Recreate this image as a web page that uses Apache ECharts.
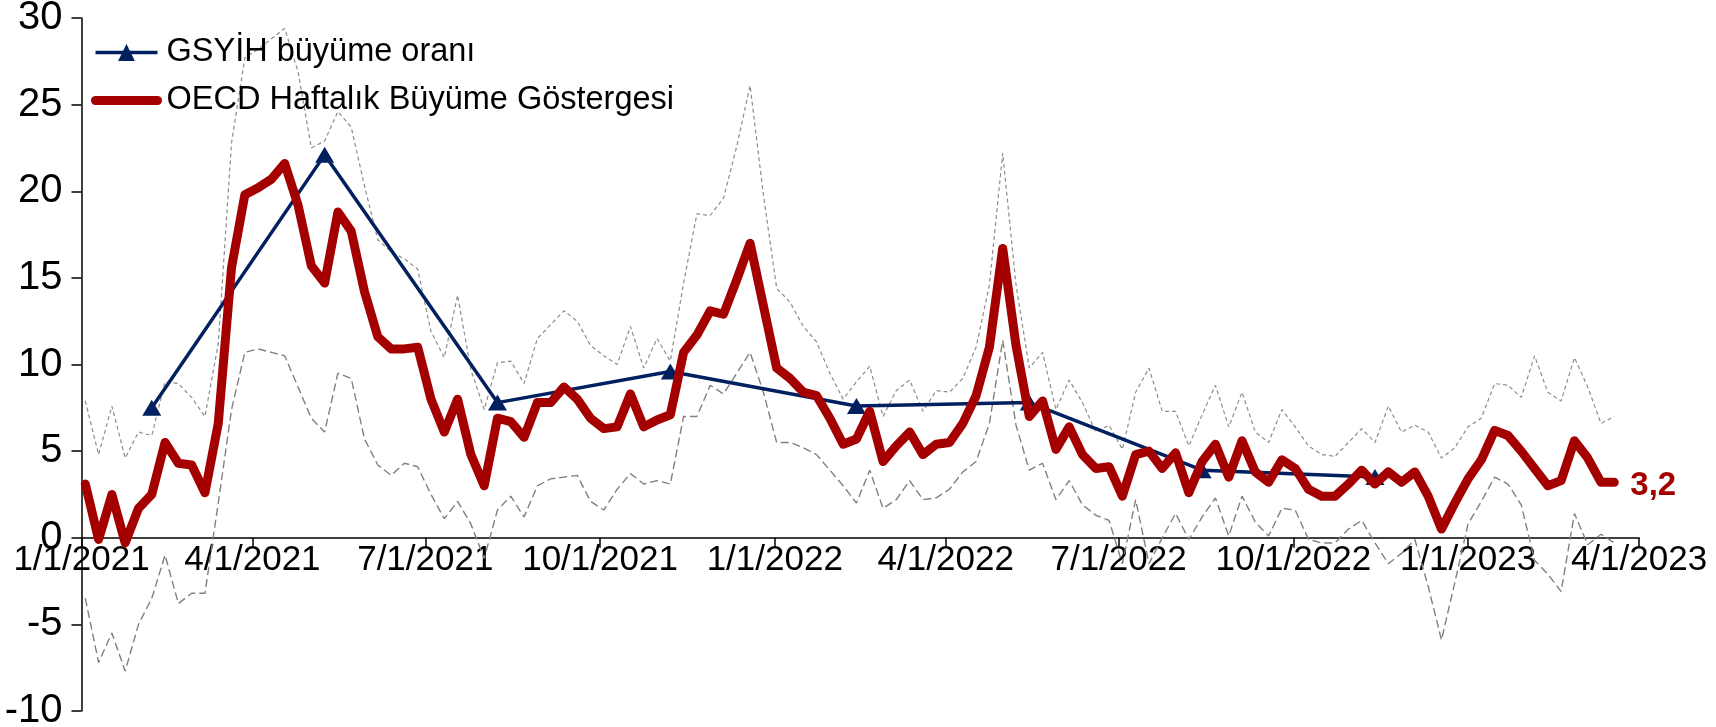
<!DOCTYPE html>
<html><head><meta charset="utf-8">
<script src="https://cdn.jsdelivr.net/npm/echarts@6/dist/echarts.min.js"></script>
<style>html,body{margin:0;padding:0;background:#fff}#c{width:1716px;height:727px}</style>
</head><body><div id="c"></div>
<script>
const weeks = [
'2021-01-03','2021-01-10','2021-01-17','2021-01-24','2021-01-31','2021-02-07','2021-02-14','2021-02-21','2021-02-28','2021-03-07',
'2021-03-14','2021-03-21','2021-03-28','2021-04-04','2021-04-11','2021-04-18','2021-04-25','2021-05-02','2021-05-09','2021-05-16',
'2021-05-23','2021-05-30','2021-06-06','2021-06-13','2021-06-20','2021-06-27','2021-07-04','2021-07-11','2021-07-18','2021-07-25',
'2021-08-01','2021-08-08','2021-08-15','2021-08-22','2021-08-29','2021-09-05','2021-09-12','2021-09-19','2021-09-26','2021-10-03',
'2021-10-10','2021-10-17','2021-10-24','2021-10-31','2021-11-07','2021-11-14','2021-11-21','2021-11-28','2021-12-05','2021-12-12',
'2021-12-19','2021-12-26','2022-01-02','2022-01-09','2022-01-16','2022-01-23','2022-01-30','2022-02-06','2022-02-13','2022-02-20',
'2022-02-27','2022-03-06','2022-03-13','2022-03-20','2022-03-27','2022-04-03','2022-04-10','2022-04-17','2022-04-24','2022-05-01',
'2022-05-08','2022-05-15','2022-05-22','2022-05-29','2022-06-05','2022-06-12','2022-06-19','2022-06-26','2022-07-03','2022-07-10',
'2022-07-17','2022-07-24','2022-07-31','2022-08-07','2022-08-14','2022-08-21','2022-08-28','2022-09-04','2022-09-11','2022-09-18',
'2022-09-25','2022-10-02','2022-10-09','2022-10-16','2022-10-23','2022-10-30','2022-11-06','2022-11-13','2022-11-20','2022-11-27',
'2022-12-04','2022-12-11','2022-12-18','2022-12-25','2023-01-01','2023-01-08','2023-01-15','2023-01-22','2023-01-29','2023-02-05',
'2023-02-12','2023-02-19','2023-02-26','2023-03-05','2023-03-12','2023-03-19'
];
const oecd = [
3.1,-0.1,2.5,-0.3,1.7,2.5,5.5,4.3,4.2,2.6,
6.6,15.6,19.8,20.2,20.7,21.6,19.2,15.7,14.7,18.8,
17.7,14.2,11.6,10.9,10.9,11.0,8.0,6.1,8.0,4.8,
3.0,6.9,6.7,5.8,7.8,7.8,8.7,8.0,6.9,6.3,
6.4,8.3,6.4,6.8,7.1,10.7,11.7,13.1,12.9,14.9,
17.0,13.4,9.8,9.2,8.4,8.2,6.9,5.4,5.7,7.3,
4.4,5.3,6.1,4.8,5.4,5.5,6.6,8.2,11.0,16.7,
11.1,7.0,7.9,5.1,6.4,4.8,4.0,4.1,2.4,4.8,
5.0,4.0,4.9,2.6,4.4,5.4,3.5,5.6,3.8,3.2,
4.5,4.0,2.8,2.4,2.4,3.1,3.9,3.1,3.8,3.2,
3.8,2.4,0.5,2.0,3.4,4.5,6.2,5.9,5.0,4.0,
3.0,3.3,5.6,4.6,3.2,3.2
];
const upperBand = [
7.9,4.8,7.6,4.6,6.1,5.9,9.0,8.9,8.1,7.0,
11.2,22.8,27.7,28.2,28.8,29.4,26.9,22.5,22.9,24.6,
23.7,20.3,17.2,16.5,16.1,15.5,11.9,10.4,14.0,9.7,
7.4,10.1,10.2,8.9,11.5,12.3,13.1,12.5,11.1,10.5,
10.0,12.2,9.8,11.5,10.2,14.7,18.7,18.6,19.6,22.6,
26.1,19.8,14.4,13.6,12.2,11.3,9.5,8.0,9.0,9.9,
7.0,8.5,9.1,7.3,8.5,8.4,9.2,11.0,14.6,22.2,
14.6,9.8,10.7,7.4,9.1,7.8,6.1,6.5,5.1,8.4,
9.8,7.3,7.3,5.3,7.1,8.8,6.4,8.4,6.1,5.5,
7.4,6.4,5.3,4.8,4.7,5.5,6.3,5.5,7.6,6.1,
6.5,6.1,4.6,5.2,6.4,6.9,8.9,8.8,8.1,10.5,
8.4,7.9,10.4,8.7,6.6,7.0
];
const lowerBand = [
-3.5,-7.2,-5.5,-7.7,-5.0,-3.5,-1.0,-3.8,-3.2,-3.2,
2.0,7.4,10.7,10.9,10.7,10.5,8.7,6.9,6.1,9.5,
9.2,5.7,4.2,3.6,4.3,4.1,2.5,1.1,2.1,0.8,
-1.2,1.6,2.4,1.2,3.0,3.4,3.5,3.6,2.1,1.6,
2.8,3.7,3.1,3.3,3.1,7.0,7.0,8.8,8.3,9.5,
10.7,8.4,5.5,5.5,5.2,4.8,3.9,3.0,2.0,3.9,
1.7,2.2,3.3,2.2,2.3,2.8,3.8,4.4,6.6,11.4,
6.5,3.9,4.3,2.2,3.3,1.9,1.3,1.0,-1.5,2.2,
-1.5,0.0,1.4,-0.1,1.2,2.3,0.1,2.4,0.9,0.1,
1.7,1.6,-0.1,-0.3,-0.3,0.5,1.0,-0.3,-1.5,-0.9,
-0.1,-2.8,-5.9,-2.6,0.8,2.1,3.5,3.1,1.9,-1.3,
-2.1,-3.1,1.4,-0.4,0.2,-0.3
];
const gdpDates = ['2021-02-07','2021-05-09','2021-08-08','2021-11-07','2022-02-13','2022-05-15','2022-08-14','2022-11-13'];
const gdp = [7.5, 22.1, 7.8, 9.6, 7.6, 7.8, 3.9, 3.5];
const tickDates = ['2021-01-01','2021-04-01','2021-07-01','2021-10-01','2022-01-01','2022-04-01','2022-07-01','2022-10-01','2023-01-01','2023-04-01'];
const yTicks = {min:-10, max:30, step:5};
const names = ['GSYİH büyüme oranı', 'OECD Haftalık Büyüme Göstergesi'];

const FONT = '"Liberation Sans", Arial, sans-serif';
const DAY = 86400000;
const GRID = {left: 81.5, right: 77, top: 18, bottom: 16};
const plotH = 727 - GRID.top - GRID.bottom;
const zeroOffset = -plotH * (0 - yTicks.min) / (yTicks.max - yTicks.min);
function ts(s){ const p = s.split('-'); return Date.UTC(+p[0], +p[1]-1, +p[2]); }
const tickTs = tickDates.map(ts);
const pair = (dates, vals) => dates.map((d, i) => [ts(d), vals[i]]);
function fmtDate(v){ const d = new Date(typeof v === 'object' ? v.value : v); return (d.getUTCMonth() + 1) + '/' + d.getUTCDate() + '/' + d.getUTCFullYear(); }

const chart = echarts.init(document.getElementById('c'), null, {renderer: 'canvas'});
chart.setOption({
  animation: false,
  useUTC: true,
  backgroundColor: '#ffffff',
  grid: Object.assign({containLabel: false, outerBoundsMode: 'none'}, GRID),
  xAxis: {
    type: 'time', min: tickTs[0], max: tickTs[tickTs.length - 1],
    splitNumber: tickTs.length - 1, minInterval: 85 * DAY, maxInterval: 95 * DAY,
    offset: zeroOffset,
    axisLine: {onZero: false, lineStyle: {color: '#000', width: 1.5}},
    axisTick: {show: true, length: 10, inside: false, lineStyle: {color: '#000', width: 1.5}},
    minorTick: {show: false},
    axisLabel: {
      formatter: fmtDate, color: '#000', fontSize: 35, fontFamily: FONT, margin: 5,
      hideOverlap: false, showMinLabel: true, showMaxLabel: true, fontWeight: 'normal'
    },
    splitLine: {show: false}
  },
  yAxis: {
    type: 'value', min: yTicks.min, max: yTicks.max, interval: yTicks.step,
    axisLine: {show: true, lineStyle: {color: '#000', width: 1.5}},
    axisTick: {show: true, length: 10, lineStyle: {color: '#000', width: 1.5}},
    axisLabel: {color: '#000', fontSize: 40, fontFamily: FONT, margin: 19},
    splitLine: {show: false}
  },
  legend: {
    data: [
      {name: names[0], lineStyle: {width: 3.5, color: '#002060'}},
      {name: names[1], lineStyle: {width: 9, color: '#A50000', cap: 'round'}, itemStyle: {opacity: 0}}
    ],
    orient: 'vertical', left: 91, top: 36, padding: 0,
    itemWidth: 62, itemHeight: 21, itemGap: 15,
    textStyle: {fontSize: 32.5, fontFamily: FONT, color: '#000', padding: [0, 0, 0, 4]}
  },
  series: [
    {type: 'line', data: pair(weeks, upperBand), symbol: 'none', silent: true, z: 1,
     lineStyle: {color: '#8c8c8c', width: 1.2, type: [4, 3]}},
    {type: 'line', data: pair(weeks, lowerBand), symbol: 'none', silent: true, z: 1,
     lineStyle: {color: '#808080', width: 1.4, type: [8, 4]}},
    {name: names[0], type: 'line', data: pair(gdpDates, gdp), symbol: 'triangle', symbolSize: [19, 16], z: 3,
     lineStyle: {color: '#002060', width: 3.5}, itemStyle: {color: '#002060'}},
    {name: names[1], type: 'line', data: pair(weeks, oecd), symbol: 'none', z: 4,
     lineStyle: {color: '#A50000', width: 9, cap: 'round', join: 'round'}, itemStyle: {color: '#A50000'},
     endLabel: {show: true, formatter: p => p.value[1].toFixed(1).replace('.', ','), color: '#A50000',
       fontWeight: 'bold', fontSize: 33, fontFamily: FONT, distance: 16, offset: [0, 4]}}
  ]
});
</script>
</body></html>
